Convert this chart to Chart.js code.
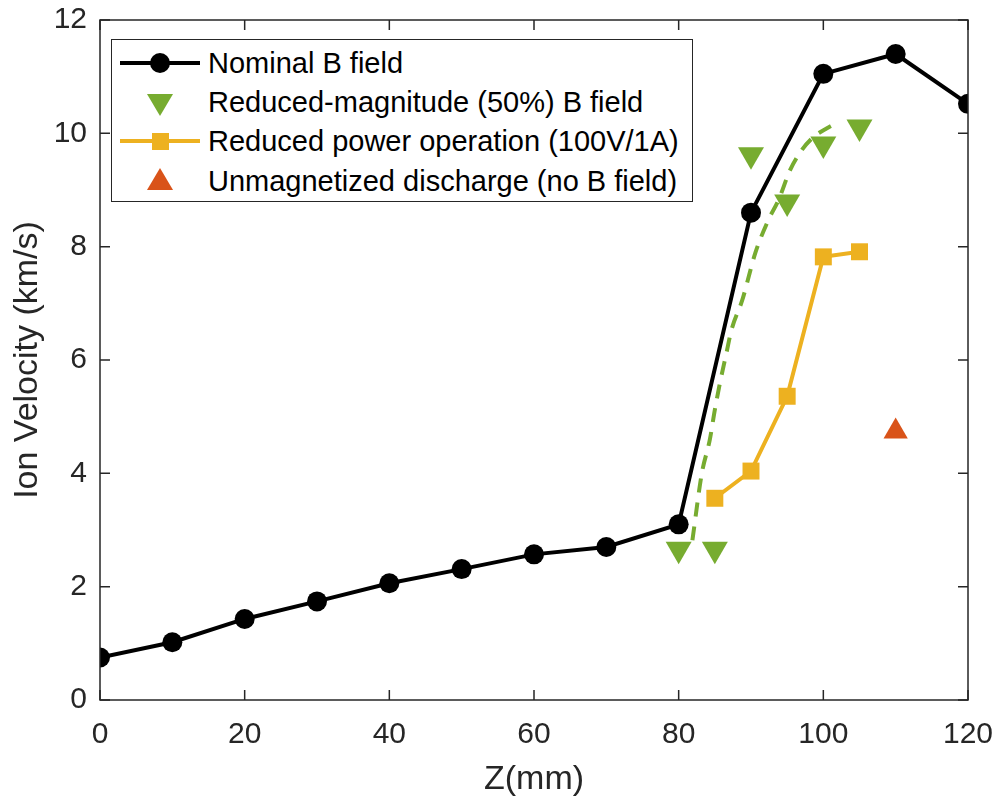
<!DOCTYPE html>
<html>
<head>
<meta charset="utf-8">
<script src="https://cdn.jsdelivr.net/npm/chart.js@4"></script>
<style>
  html, body { margin: 0; padding: 0; background: #fff; }
  #wrap { position: relative; width: 999px; height: 808px; }
  #legend {
    position: absolute; left: 111px; top: 39px; width: 582px; height: 163px;
    border: 1.5px solid #262626; background: #fff; box-sizing: border-box;
    font-family: "Liberation Sans", Arial, sans-serif; font-size: 29px; color: #000;
  }
  .row { position: absolute; left: 0; height: 40px; display: flex; align-items: center; }
  .row svg { width: 92px; height: 40px; flex: none; }
  .row span { margin-left: 4px; white-space: nowrap; }
</style>
</head>
<body>
<div id="wrap">
  <canvas id="chart" width="999" height="808"></canvas>
  <div id="legend">
    <div class="row" style="top:3px">
      <svg viewBox="0 0 92 40"><line x1="8" y1="20" x2="88" y2="20" stroke="#000" stroke-width="4"/><circle cx="48" cy="20" r="10" fill="#000"/></svg>
      <span>Nominal B field</span>
    </div>
    <div class="row" style="top:42px">
      <svg viewBox="0 0 92 40"><polygon points="35,12 61,12 48,34" fill="#77AC30"/></svg>
      <span>Reduced-magnitude (50%) B field</span>
    </div>
    <div class="row" style="top:81px">
      <svg viewBox="0 0 92 40"><line x1="8" y1="20" x2="88" y2="20" stroke="#EDB120" stroke-width="4"/><rect x="40" y="12" width="17" height="17" fill="#EDB120"/></svg>
      <span>Reduced power operation (100V/1A)</span>
    </div>
    <div class="row" style="top:121px">
      <svg viewBox="0 0 92 40"><polygon points="48,7 61,29 35,29" fill="#D95319"/></svg>
      <span>Unmagnetized discharge (no B field)</span>
    </div>
  </div>
</div>
<script>
// --- data ---
const xTicks = [0, 20, 40, 60, 80, 100, 120];
const yTicks = [0, 2, 4, 6, 8, 10, 12];

const nominalZ = [0, 10, 20, 30, 40, 50, 60, 70, 80, 90, 100, 110, 120];
const nominalV = [0.75, 1.02, 1.43, 1.74, 2.06, 2.31, 2.57, 2.70, 3.10, 8.60, 11.05, 11.40, 10.52];

const reducedMagZ = [80, 85, 90, 95, 100, 105];
const reducedMagV = [2.66, 2.66, 9.62, 8.79, 9.81, 10.11];

// dashed fit through the reduced-magnitude points
const fitZ = [81.9, 83.2, 84.3, 85.0, 85.7, 86.6, 87.3, 88.8, 90.6, 92.4, 93.8, 95.4, 97.0, 98.6, 100.5, 101.8];
const fitV = [2.82, 4.00, 4.59, 5.12, 5.59, 6.12, 6.53, 7.06, 7.89, 8.47, 8.82, 9.35, 9.70, 9.93, 10.09, 10.18];

const lowPowerZ = [85, 90, 95, 100, 105];
const lowPowerV = [3.56, 4.04, 5.36, 7.82, 7.91];

const noFieldZ = [110];
const noFieldV = [4.74];

const pts = (xs, ys) => xs.map((x, i) => ({ x, y: ys[i] }));

const axisColor = '#262626';
const family = '"Liberation Sans", Arial, sans-serif';
const tickFont = { family, size: 30 };
const titleFont = { family, size: 34 };

// MATLAB style box with inward ticks
const boxTicks = {
  id: 'boxTicks',
  afterDraw(chart) {
    const { ctx, chartArea: a, scales } = chart;
    ctx.save();
    ctx.strokeStyle = axisColor;
    ctx.lineWidth = 1.5;
    ctx.strokeRect(a.left, a.top, a.right - a.left, a.bottom - a.top);
    const len = 10;
    ctx.beginPath();
    scales.x.ticks.forEach(t => {
      const px = scales.x.getPixelForValue(t.value);
      ctx.moveTo(px, a.bottom); ctx.lineTo(px, a.bottom - len);
      ctx.moveTo(px, a.top);    ctx.lineTo(px, a.top + len);
    });
    scales.y.ticks.forEach(t => {
      const py = scales.y.getPixelForValue(t.value);
      ctx.moveTo(a.left, py);  ctx.lineTo(a.left + len, py);
      ctx.moveTo(a.right, py); ctx.lineTo(a.right - len, py);
    });
    ctx.stroke();
    ctx.restore();
  }
};

new Chart(document.getElementById('chart'), {
  type: 'scatter',
  data: {
    datasets: [
      {
        label: 'Nominal B field',
        data: pts(nominalZ, nominalV),
        showLine: true,
        borderColor: '#000', backgroundColor: '#000',
        borderWidth: 4, pointRadius: 10, pointBorderWidth: 0,
        order: 5
      },
      {
        label: 'Reduced-magnitude (50%) B field',
        data: pts(reducedMagZ, reducedMagV),
        showLine: false,
        pointStyle: 'triangle', pointRotation: 180,
        backgroundColor: '#77AC30', borderColor: '#77AC30',
        pointRadius: 15, pointBorderWidth: 0,
        order: 4
      },
      {
        label: 'fit',
        data: pts(fitZ, fitV),
        showLine: true,
        borderColor: '#77AC30', borderWidth: 4, borderDash: [14, 10],
        cubicInterpolationMode: 'monotone',
        pointRadius: 0,
        order: 3
      },
      {
        label: 'Reduced power operation (100V/1A)',
        data: pts(lowPowerZ, lowPowerV),
        showLine: true,
        pointStyle: 'rect',
        borderColor: '#EDB120', backgroundColor: '#EDB120',
        borderWidth: 4, pointRadius: 12, pointBorderWidth: 0,
        order: 2
      },
      {
        label: 'Unmagnetized discharge (no B field)',
        data: pts(noFieldZ, noFieldV),
        showLine: false,
        pointStyle: 'triangle',
        backgroundColor: '#D95319', borderColor: '#D95319',
        pointRadius: 14, pointBorderWidth: 0,
        order: 1
      }
    ]
  },
  options: {
    responsive: false,
    animation: false,
    layout: { padding: { left: 0, right: 31, top: 20, bottom: 0 } },
    plugins: { legend: { display: false }, tooltip: { enabled: false } },
    scales: {
      x: {
        type: 'linear', min: 0, max: 120,
        afterBuildTicks: s => { s.ticks = xTicks.map(v => ({ value: v })); },
        afterFit: s => { s.height = 108; s.paddingLeft = 0; s.paddingRight = 0; },
        grid: { display: false, drawTicks: false },
        border: { display: false },
        ticks: { color: axisColor, font: tickFont, padding: 17, maxRotation: 0 },
        title: { display: true, text: 'Z(mm)', color: axisColor, font: titleFont, padding: { top: 0, bottom: 8 } }
      },
      y: {
        type: 'linear', min: 0, max: 12,
        afterBuildTicks: s => { s.ticks = yTicks.map(v => ({ value: v })); },
        afterFit: s => { s.width = 100; s.paddingTop = 0; s.paddingBottom = 0; },
        grid: { display: false, drawTicks: false },
        border: { display: false },
        ticks: { color: axisColor, font: tickFont, padding: 13 },
        title: { display: true, text: 'Ion Velocity (km/s)', color: axisColor, font: titleFont, padding: { top: 7, bottom: 0 } }
      }
    }
  },
  plugins: [boxTicks]
});
</script>
</body>
</html>
